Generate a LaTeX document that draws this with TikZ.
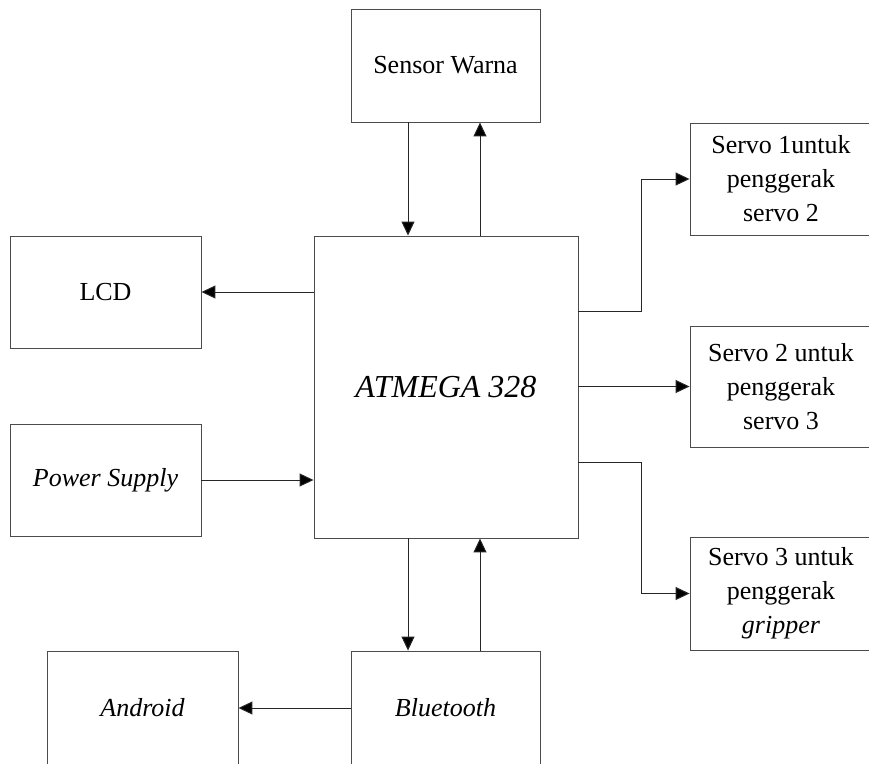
\documentclass[tikz,border=0pt]{standalone}
\usepackage{fontspec}
\setmainfont{Liberation Serif}
\usetikzlibrary{arrows.meta}
\tikzset{
  blk/.style={draw=black!70, line width=0.9pt, rectangle, inner sep=0pt, align=center,
    font=\fontsize{26}{34}\selectfont},
  arr/.style={draw=black!85, line width=1pt, -{Triangle[length=14pt,width=13pt,fill=black]}},
}
\begin{document}
\begin{tikzpicture}[x=1pt,y=-1pt]
\useasboundingbox (0,0) rectangle (869,763);
\node[blk, minimum width=189pt, minimum height=113pt] (sw) at (445.5,65.5) {Sensor Warna};
\node[blk, minimum width=264pt, minimum height=302pt, font=\fontsize{32}{38}\selectfont\itshape] (atm) at (446,387) {ATMEGA 328};
\node[blk, minimum width=191pt, minimum height=112pt] (lcd) at (105.5,292) {LCD};
\node[blk, minimum width=191pt, minimum height=112pt] (ps) at (105.5,480) {\itshape Power Supply};
\node[blk, minimum width=182pt, minimum height=112pt] (s1) at (781,179) {Servo 1untuk\\penggerak\\servo 2};
\node[blk, minimum width=182pt, minimum height=121pt] (s2) at (781,386.5) {Servo 2 untuk\\penggerak\\servo 3};
\node[blk, minimum width=182pt, minimum height=113pt] (s3) at (781,593.5) {Servo 3 untuk\\penggerak\\\textit{gripper}};
\node[blk, minimum width=191pt, minimum height=114pt] (and) at (142.5,708) {\itshape Android};
\node[blk, minimum width=189pt, minimum height=114pt] (bt) at (445.5,708) {\itshape Bluetooth};
% connectors
\draw[arr] (sw.south -| 408,0) -- (atm.north -| 408,0);
\draw[arr] (atm.north -| 480,0) -- (sw.south -| 480,0);
\draw[arr] (lcd.east -| atm.west) -- (lcd.east);
\draw[arr] (ps.east) -- (ps.east -| atm.west);
\draw[arr] (atm.south -| 408,0) -- (bt.north -| 408,0);
\draw[arr] (bt.north -| 480,0) -- (atm.south -| 480,0);
\draw[arr] (bt.west) -- (and.east);
\coordinate (k1) at (641,311);
\coordinate (k3) at (641,462);
\draw[arr] (atm.east |- k1) -- (k1) |- (s1.west);
\draw[arr] (s2.west -| atm.east) -- (s2.west);
\draw[arr] (atm.east |- k3) -- (k3) |- (s3.west);
\end{tikzpicture}
\end{document}
